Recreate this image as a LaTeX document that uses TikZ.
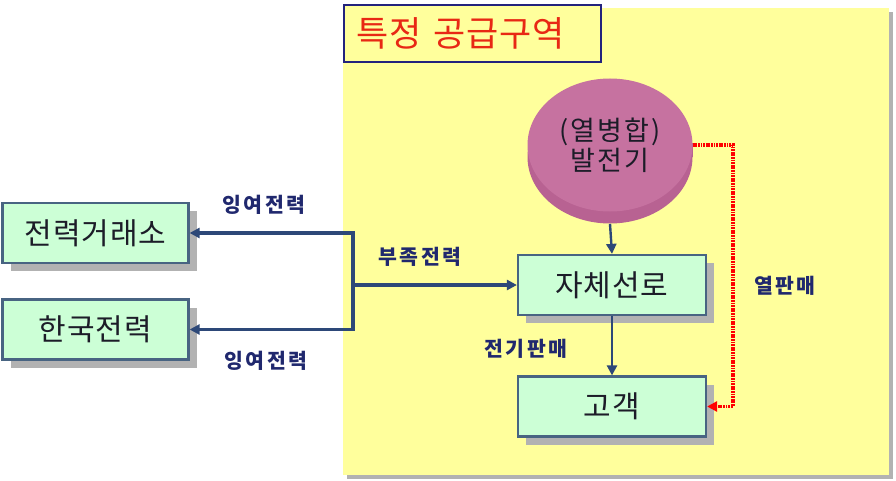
\documentclass[tikz,border=0pt]{standalone}
\usepackage{fontspec}
\setmainfont{Noto Sans CJK KR}
\newfontfamily\boxfont[LetterSpace=3]{Noto Sans CJK KR}
\newfontfamily\lblfont[LetterSpace=12]{Noto Sans CJK KR}
\newfontfamily\titlefont[LetterSpace=3]{Noto Sans CJK KR}
\newfontfamily\genfont[LetterSpace=8]{Noto Sans CJK KR}
\usetikzlibrary{arrows.meta,shapes.geometric,shadows}

\definecolor{zoneyellow}{RGB}{255,255,156}
\definecolor{boxgreen}{RGB}{204,255,214}
\definecolor{boxedge}{RGB}{72,100,130}
\definecolor{shadowgray}{RGB}{178,178,178}
\definecolor{flownavy}{RGB}{45,72,120}
\definecolor{labelnavy}{RGB}{32,40,110}
\definecolor{titlered}{RGB}{232,40,20}
\definecolor{titleedge}{RGB}{35,35,125}
\definecolor{genpink}{RGB}{198,114,160}
\definecolor{genside}{RGB}{184,98,146}
\definecolor{inktext}{RGB}{28,28,40}

\tikzset{
  unitbox/.style={draw=boxedge, line width=2.2pt, fill=boxgreen,
    minimum width=186pt, minimum height=60pt, inner sep=0pt,
    font=\boxfont\fontsize{30}{34}\selectfont, text=inktext,
    general shadow={fill=shadowgray, shadow xshift=8pt, shadow yshift=-8pt}},
  flowlabel/.style={font=\lblfont\bfseries\fontsize{20.5}{24}\selectfont, text=labelnavy, inner sep=0pt},
  flow/.style={draw=flownavy, line width=3.4pt, -{Triangle[length=10pt,width=10pt]}},
  thinflow/.style={draw=flownavy, line width=2.4pt, -{Triangle[length=10pt,width=10pt]}},
  heatflow/.style={draw=red, line width=3.6pt, dash pattern=on 1.8pt off 0.8pt,
    -{Triangle[length=10pt,width=10pt]}}
}

\begin{document}
\begin{tikzpicture}[x=1pt,y=-1pt]
  \useasboundingbox (0,0) rectangle (896,481);

  % supply zone with its shadow
  \fill[shadowgray] (347,12) rectangle (893,479);
  \fill[zoneyellow] (343,8) rectangle (889,475);

  % zone title
  \node[draw=titleedge, line width=2.2pt, fill=zoneyellow, anchor=west,
        text width=233pt, align=left, inner xsep=12pt, minimum height=57pt,
        font=\titlefont\fontsize{35}{38}\selectfont, text=titlered]
        (title) at (343,33.5) {특정 공급구역};

  % CHP generator drawn as a flat cylinder
  \fill[genside] (527.5,143) rectangle (692.5,157);
  \fill[genside] (610,157) ellipse [x radius=82.5, y radius=66.5];
  \node[ellipse, fill=genpink, minimum width=165pt, minimum height=133pt,
        inner sep=0pt, align=center, text=inktext,
        font=\genfont\fontsize{27}{30}\selectfont] (gen) at (610,145) {(열병합)\\발전기};
  \coordinate (genbase) at (610,224);

  % boxes
  \node[unitbox] (kpx)  at (95.5,233)   {전력거래소};
  \node[unitbox] (kepco) at (95.5,329.5) {한국전력};
  \node[unitbox, minimum width=188pt] (line) at (612,285)   {자체선로};
  \node[unitbox, minimum width=188pt] (cust) at (612,406.5) {고객};

  % power flows
  \coordinate (junc) at (353,285);
  \draw[flow] (junc) -- (line.west);
  \draw[flow] (junc) |- (kpx.east);
  \draw[flow] (junc) |- (kepco.east);
  \draw[thinflow] (genbase) -- (line.north);
  \draw[thinflow] (line.south) -- (cust.north);

  % heat sales
  \draw[heatflow] (gen.east) -- ++(40,0) |- (cust.east);

  % flow labels
  \node[flowlabel] (sur1) at (264,205) {잉여전력};
  \node[flowlabel] (sur2) at (266,361) {잉여전력};
  \node[flowlabel] (short) at (420,257) {부족전력};
  \node[flowlabel] (elec) at (526,349) {전기판매};
  \node[flowlabel] (heat) at (785,286) {열판매};
\end{tikzpicture}
\end{document}
